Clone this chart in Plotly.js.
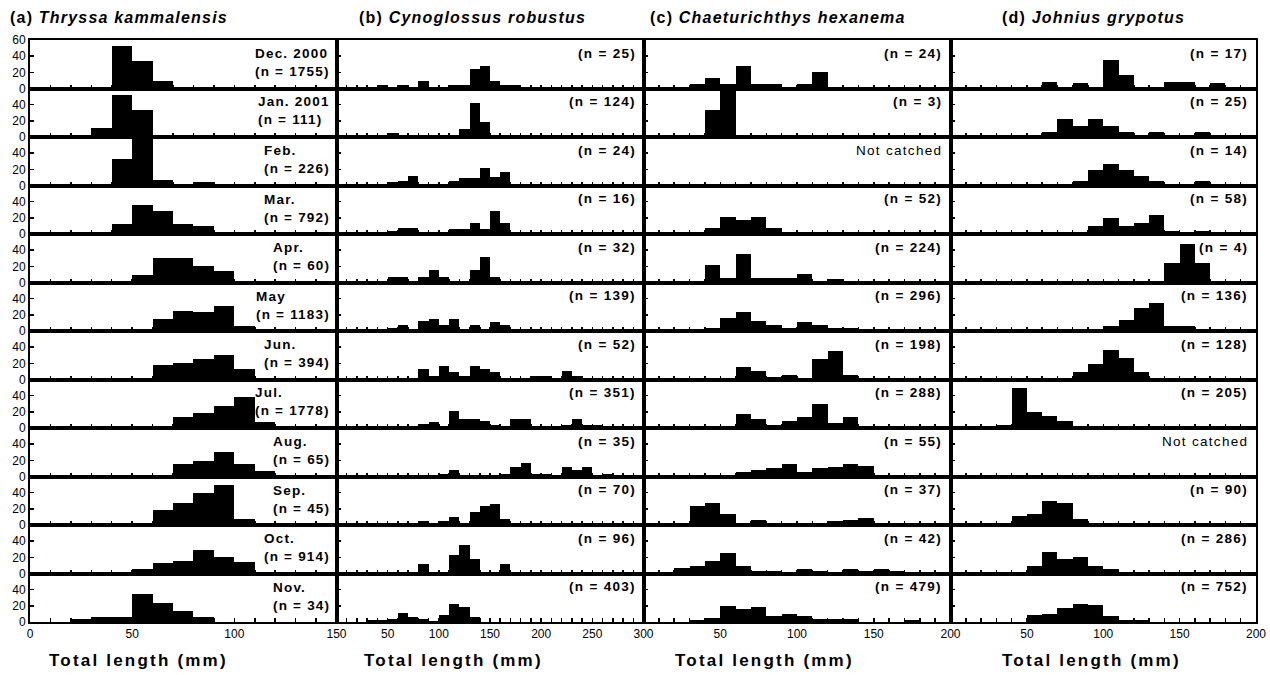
<!DOCTYPE html>
<html><head><meta charset="utf-8">
<script src="https://cdn.plot.ly/plotly-3.0.1.min.js"></script>
<style>html,body{margin:0;padding:0;background:#fff}</style>
</head><body><div id="chart" style="width:1270px;height:675px"></div>
<script>
// ---------- DATA ----------
const months = ["Dec. 2000","Jan. 2001","Feb.","Mar.","Apr.","May","Jun.","Jul.","Aug.","Sep.","Oct.","Nov."];
const speciesNames = ["Thryssa kammalensis","Cynoglossus robustus","Chaeturichthys hexanema","Johnius grypotus"];
const panelLetters = ["(a)","(b)","(c)","(d)"];

// length-class lower bounds (mm), 10-mm classes
const binsA = [0,10,20,30,40,50,60,70,80,90,100,110,120,130,140];
const binsB = [0,10,20,30,40,50,60,70,80,90,100,110,120,130,140,150,160,170,180,190,200,210,220,230,240,250,260,270,280,290];
const binsC = [0,10,20,30,40,50,60,70,80,90,100,110,120,130,140,150,160,170,180,190];
const binsD = [0,10,20,30,40,50,60,70,80,90,100,110,120,130,140,150,160,170,180,190];

// sample sizes (null = not catched)
const nA = [1755,111,226,792,60,1183,394,1778,65,45,914,34];
const nB = [25,124,24,16,32,139,52,351,35,70,96,403];
const nC = [24,3,null,52,224,296,198,288,55,37,42,479];
const nD = [17,25,14,58,4,136,128,205,null,90,286,752];

// percentage frequency per length class, one row per month (Dec..Nov)
const thryssaPct = [
  [0,0,0,2,52,34,9,2,0,0,0,0,0,0,0],
  [0,0,1,11,52,33,3,1.5,0,0,0,0,0,0,0],
  [0,0,0,0,33,57,7,2,4,0,0,0,0,0,0],
  [0,0,0,0,12,36,29,12,10,0,0,0,0,0,0],
  [0,0,0,0,0,9,30,30,20,14,0,0,0,0,0],
  [0,0.7,0,0,1,0,15,25,24,31,6,0,0,0,0],
  [0,0,0,0,0,0,18,20,25,30,13,0,0,0,0],
  [0,0,0,0,0,0,3,13,19,27,38,7,0,0,0],
  [0,0,0,0,0,0,0,15,19,30,15,7,0,0,0],
  [0,0,0,0,0,0,19,27,39,50,8,0,0,0,0],
  [0.5,0.5,0,0,0,6,13,16,29,21,14,0,0,0,0],
  [0,0,4,6,6,35,24,14,6,0,0,0,0,0,0]
];
const cynoPct = [
  [0,0,0,0,4,0,4,0,9,0,0,4,4,24,28,9,4,4,0,0,0,0,0,0,0,0,0,0,0,0],
  [0,0,0,0,3,5,1,1,3,0,1,3,10,42,19,0.5,0,0,0,0,0,0,0,0,0,0,0,0,0,0],
  [0,0,0,0,0,4,5,12,0,0,0,5,9,9,22,11,17,0,0,0,0,0,0,0,0,0,0,0,0,0],
  [0,0,0,0,0,4,7,7,0,0,0,6,6,14,6,28,13,1,0,0,0,0,0,0,0,0,0,0,0,0],
  [0,0,0,0,0,7,7,0,7,15,7,0,0,16,31,7,0,0,0,0,0,0,0,0,0,0,0,0,0,0],
  [0,0,0,0,0,4,8,0,12,15,8,15,3,8,1,11,7,3,3,3,0,0,0,0,0,0,0,0,0,0],
  [0,0,0,0,0,0,0,0,13,4,17,9,4,17,13,9,0,0,0,4,4,0,10,4,0,0,0,0,0,0],
  [0,0,0,0,0,0,0,0,5,7,0,21,11,11,9,4,1,11,11,1,1,1,4,11,4,4,0,0,0,0],
  [0,0,0,0,0,0,0,0,0,0,3,8,0,0,0,0,3,12,17,3,3,0,12,8,12,0,3,0,0,0],
  [0,0,0,0,0,0,0,0,5,0,5,10,0,16,23,26,7,1.5,0,0,0,0,0,1.5,0,0,0,0,0,0],
  [0,0,0,0,0,0,0,0,12,0,0,23,35,18,0,0,12,0,0,0,0,0,0,0,0,0,0,0,0,0],
  [0,0,0,3,2,4,11,6,4,1.5,9,22,18,6,0,0,0,0,0,0,0,0,0,0,0,0,0,0,0,0]
];
const chaetPct = [
  [0,0,0,5,13,5,28,5,5,0,5,21,0,0,0,0,0,0,0,0],
  [0,0,0,0,33,58,0,0,0,0,0,0,0,0,0,0,0,0,0,0],
  [],
  [0,0,0,0,7,21,17,21,7,3,2.5,3,3,0,0,0,0,0,0,0],
  [0,0,0,0,22,5,35,6,5,5,11,1,4,0,0,0,0,0,0,0],
  [0,0,0,0,4,16,24,12,8,4,11,8,4,4,0,0,0,0,0,0],
  [0,0,0,0,0,0,15,11,3,5,1,25,35,5,0,0,0,0,0,0],
  [0,0,0,0,0,0,17,11,4,9,14,30,6,14,0,3,0,0,0,0],
  [0,0,0,0,0,0,5.5,7.5,11,15,6,11,12,15,13,0,0,0,0,0],
  [0,3,0,24,27,13,2.5,6,2.5,0,0,1,5,6,9,2.5,0,0,0,0],
  [0,0,7,9,16,25,9,3.5,3.5,0,6,3.5,0,6,3,6,3,0,0,0],
  [0,0,0.5,3,5,20,16,18,8,10,8,4,4,4,0,0,0,2,0,0]
];
const johniusPct = [
  [0,0,0,0,0,0,8,0,7,0,35,17,0,0,8,8,0,7,0,0],
  [0,0,0,0,0,0,6,22,14,22,14,6,0,6,0,0,6,0,0,0],
  [0,0,0,0,0,0,0,0,6,19,26,19,12,6,0,0,6,0,0,0],
  [0,0,0,0,0,0,0,0,0,10,20,10,14,24,4,0,3.5,0,0,0],
  [0,0,0,0,0,0,0,0,0,0,0,0,0,0,24,48,24,0,0,0],
  [0,0,0,0,0,0,0,0,0,0,6,14,28,35,6,6,0,0,0,0],
  [0,0,0,0,0,0,0,0,9,19,37,27,9,0,0,0,0,0,0,0],
  [0,0,0,4,50,20,15,9,0,0,0,0,0,0,0,0,0,0,0,0],
  [],
  [0,0,0,2,11,14,30,27,7,0,0,0,2,0,0,0,0,0,0,0],
  [0,0,0,0,0,9,26,18,20,9,6,0,0,0,1.5,0,0,0,0,0],
  [0,0,0,0,0,9,10,17,22,21,8,3,3,0,0,0,0,0,0,0]
];

// ---------- LAYOUT ----------
const W = 1270, H = 675;
const FONT = "Liberation Sans, Arial, Helvetica, sans-serif";
const colEdges = [[30,336.5],[336.5,643.5],[643.5,950.5],[950.5,1256]];
const xMax = [150,300,200,200];
const rowTop0 = 40, rowH = 48.5;
const titleX = [8,357,648,1000];
const axisTitleX = [138,453,764,1091];

const allPct = [thryssaPct, cynoPct, chaetPct, johniusPct];
const allBins = [binsA, binsB, binsC, binsD];
const allN = [nA, nB, nC, nD];

const px = v => v / W;
const py = v => 1 - v / H;
const sp = (t, ls) => `<span style="letter-spacing:${ls}px">${t}</span>`;

const traces = [];
const layout = {
  width: W, height: H, margin: {l:0, r:0, t:0, b:0},
  paper_bgcolor: '#fff', plot_bgcolor: '#fff',
  showlegend: false, bargap: 0,
  font: {family: FONT, color: '#000'},
  annotations: []
};

for (let c = 0; c < 4; c++) {
  const ticks10 = [];
  for (let v = 0; v <= xMax[c]; v += 10) ticks10.push(v);
  for (let r = 0; r < 12; r++) {
    const k = c * 12 + r + 1;
    const s = k === 1 ? '' : String(k);
    const top = rowTop0 + r * rowH, bot = top + rowH;
    const yv = allPct[c][r];
    traces.push({
      type: 'bar', x: yv.length ? allBins[c] : [], y: yv,
      xaxis: 'x' + s, yaxis: 'y' + s,
      width: 10, offset: 0,
      marker: {color: '#000', line: {width: 0}},
      hoverinfo: 'skip', showlegend: false
    });
    const bottomRow = r === 11;
    layout['xaxis' + s] = {
      domain: [px(colEdges[c][0]), px(colEdges[c][1])],
      range: [0, xMax[c]], anchor: 'y' + s,
      showline: true, linecolor: '#000', linewidth: 2, mirror: true,
      ticks: 'inside', ticklen: 4, tickwidth: 1.5, tickcolor: '#000',
      tickmode: 'array', tickvals: ticks10,
      ticktext: ticks10.map(v => (v % 50 === 0 && !(v === 0 && c > 0)) ? String(v) : ''),
      showticklabels: bottomRow,
      tickfont: {family: FONT, size: 12, color: '#000'},
      showgrid: false, zeroline: false, fixedrange: true
    };
    const yt = (c === 0 && r === 0) ? [0,20,40,60] : [0,20,40];
    layout['yaxis' + s] = {
      domain: [py(bot), py(top)],
      range: [0, 60], anchor: 'x' + s,
      showline: true, linecolor: '#000', linewidth: 2, mirror: true,
      ticks: 'inside', ticklen: 4, tickwidth: 1.5, tickcolor: '#000',
      tickmode: 'array', tickvals: yt, ticktext: yt.map(String),
      showticklabels: c === 0,
      tickfont: {family: FONT, size: 12, color: '#000'},
      showgrid: false, zeroline: false, fixedrange: true
    };
    // labels
    if (c === 0) {
      layout.annotations.push({
        xref: 'paper', yref: 'paper', x: px(332), y: py(top + 22.5),
        xanchor: 'right', yanchor: 'middle', align: 'left', showarrow: false,
        text: sp(`<b>${months[r]}</b>`, 1.2) + '<br>' + sp(`<b>(n = ${allN[c][r]})</b>`, 1.2),
        font: {family: FONT, size: 13.5, color: '#000'}
      });
    } else {
      const n = allN[c][r];
      layout.annotations.push({
        xref: 'paper', yref: 'paper', x: px(colEdges[c][1] - 6), y: py(top + 13),
        xanchor: 'right', yanchor: 'middle', showarrow: false,
        text: n === null ? sp('Not catched', 1.3) : sp(`<b>(n = ${n})</b>`, 1.3),
        font: {family: FONT, size: 13.5, color: '#000'}
      });
    }
  }
  // panel titles
  layout.annotations.push({
    xref: 'paper', yref: 'paper', x: px(titleX[c]), y: py(18),
    xanchor: 'left', yanchor: 'middle', showarrow: false,
    text: sp(`<b>${panelLetters[c]} <i>${speciesNames[c]}</i></b>`, 1.2),
    font: {family: FONT, size: 16, color: '#000'}
  });
  // x-axis titles
  layout.annotations.push({
    xref: 'paper', yref: 'paper', x: px(axisTitleX[c]), y: py(660),
    xanchor: 'center', yanchor: 'middle', showarrow: false,
    text: sp('<b>Total length (mm)</b>', 2.2),
    font: {family: FONT, size: 17, color: '#000'}
  });
}

Plotly.newPlot('chart', traces, layout, {displayModeBar: false, staticPlot: true});
</script></body></html>
